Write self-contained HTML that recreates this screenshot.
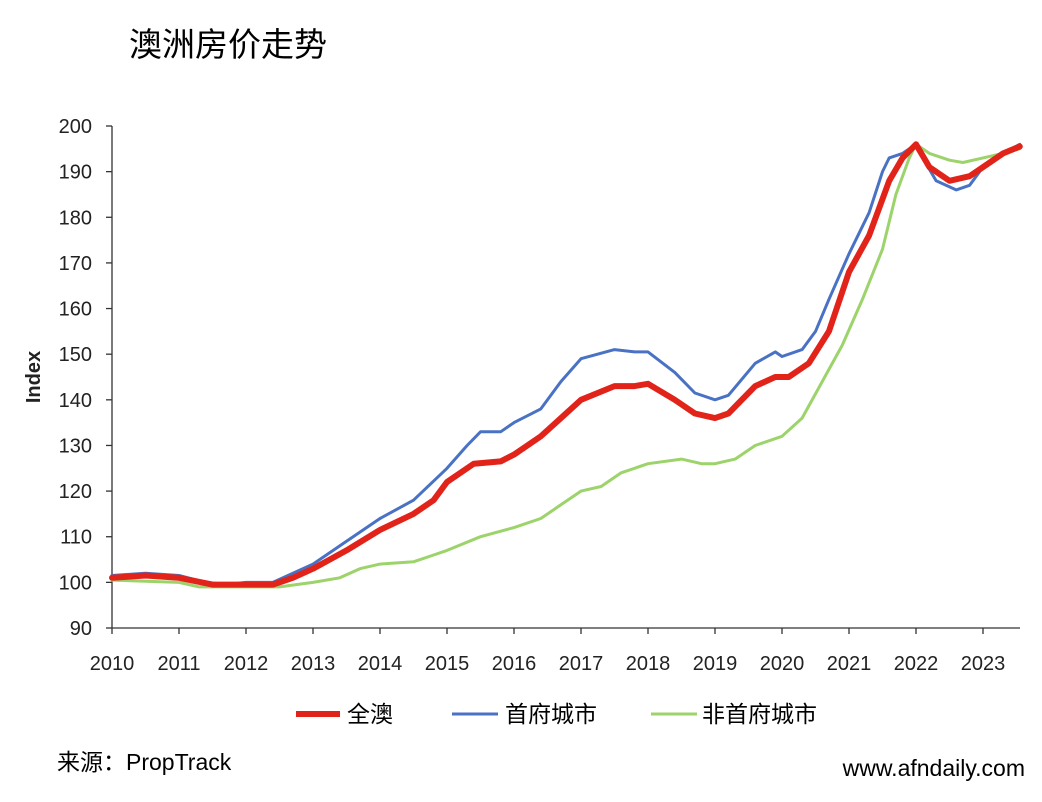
<!DOCTYPE html>
<html><head><meta charset="utf-8"><style>
body{margin:0;background:#fff;}
svg{display:block;font-family:"Liberation Sans","Noto Sans CJK SC",sans-serif;}
</style></head><body>
<svg id="c" width="1042" height="802" viewBox="0 0 1042 802">
<text x="129" y="56" font-size="33" fill="#000">澳洲房价走势</text>
<g id="axes" stroke="#333" stroke-width="1.3" fill="none"></g>
<g id="labels" font-size="20" fill="#222"></g>
<text transform="translate(40,377) rotate(-90)" font-size="20" font-weight="bold" text-anchor="middle" fill="#222">Index</text>
<g id="series" fill="none" stroke-linejoin="round" stroke-linecap="round"></g>
<line x1="296" y1="714" x2="340" y2="714" stroke="#e2231a" stroke-width="6"/>
<text x="347" y="722" font-size="23">全澳</text>
<line x1="452" y1="714" x2="498" y2="714" stroke="#4a72c4" stroke-width="3"/>
<text x="505" y="722" font-size="23">首府城市</text>
<line x1="651" y1="714" x2="697" y2="714" stroke="#9cd36a" stroke-width="3"/>
<text x="702" y="722" font-size="23">非首府城市</text>
<text x="57" y="770" font-size="23">来源：PropTrack</text>
<text x="1025" y="776" font-size="23" text-anchor="end">www.afndaily.com</text>
</svg>
<script>
var NS="http://www.w3.org/2000/svg";
function X(t){return 112+(t-2010)*67;}
function Y(v){return 628-(v-90)*4.5636;}
function el(n,a,p,txt){var e=document.createElementNS(NS,n);for(var k in a)e.setAttribute(k,a[k]);if(txt!=null)e.textContent=txt;document.getElementById(p).appendChild(e);return e;}
el("line",{x1:112,y1:126,x2:112,y2:628},"axes");
el("line",{x1:112,y1:628,x2:1020,y2:628},"axes");
for(var v=90;v<=200;v+=10){var y=Y(v);el("line",{x1:106,y1:y,x2:112,y2:y},"axes");el("text",{x:92,y:y+7,"text-anchor":"end"},"labels",String(v));}
for(var t=2010;t<=2023;t++){var x=X(t);el("line",{x1:x,y1:628,x2:x,y2:634},"axes");el("text",{x:x,y:670,"text-anchor":"middle"},"labels",String(t));}
var green=[[2010,100.5],[2011,100],[2011.3,99],[2012,99],[2012.5,99],[2013,100],[2013.4,101],[2013.7,103],[2014,104],[2014.5,104.5],[2014.8,106],[2015,107],[2015.5,110],[2016,112],[2016.4,114],[2016.7,117],[2017,120],[2017.3,121],[2017.6,124],[2018,126],[2018.5,127],[2018.8,126],[2019,126],[2019.3,127],[2019.6,130],[2020,132],[2020.3,136],[2020.6,144],[2020.9,152],[2021.2,162],[2021.5,173],[2021.7,185],[2021.9,193],[2022,196],[2022.2,194],[2022.5,192.5],[2022.7,192],[2023,193],[2023.3,194],[2023.55,195]];
var blue=[[2010,101.5],[2010.5,102],[2011,101.5],[2011.4,100],[2011.7,99.5],[2012,100],[2012.4,100],[2012.7,102],[2013,104],[2013.5,109],[2014,114],[2014.5,118],[2015,125],[2015.3,130],[2015.5,133],[2015.8,133],[2016,135],[2016.4,138],[2016.7,144],[2017,149],[2017.5,151],[2017.8,150.5],[2018,150.5],[2018.4,146],[2018.7,141.5],[2019,140],[2019.2,141],[2019.6,148],[2019.9,150.5],[2020,149.5],[2020.3,151],[2020.5,155],[2020.7,162],[2021,172],[2021.3,181],[2021.5,190],[2021.6,193],[2021.8,194],[2022,196],[2022.1,193],[2022.3,188],[2022.6,186],[2022.8,187],[2023,191],[2023.3,194],[2023.55,196]];
var red=[[2010,101],[2010.5,101.5],[2011,101],[2011.5,99.5],[2012,99.5],[2012.4,99.5],[2012.7,101],[2013,103],[2013.5,107],[2014,111.5],[2014.5,115],[2014.8,118],[2015,122],[2015.4,126],[2015.8,126.5],[2016,128],[2016.4,132],[2016.7,136],[2017,140],[2017.5,143],[2017.8,143],[2018,143.5],[2018.4,140],[2018.7,137],[2019,136],[2019.2,137],[2019.6,143],[2019.9,145],[2020.1,145],[2020.4,148],[2020.7,155],[2021,168],[2021.3,176],[2021.6,188],[2021.8,193],[2022,196],[2022.2,191],[2022.5,188],[2022.8,189],[2023,191],[2023.3,194],[2023.55,195.5]];
function pts(a){return a.map(function(p){return X(p[0]).toFixed(1)+","+Y(p[1]).toFixed(1);}).join(" ");}
el("polyline",{points:pts(green),stroke:"#9cd36a","stroke-width":3},"series");
el("polyline",{points:pts(blue),stroke:"#4a72c4","stroke-width":3},"series");
el("polyline",{points:pts(red),stroke:"#e2231a","stroke-width":6},"series");
</script>
</body></html>
